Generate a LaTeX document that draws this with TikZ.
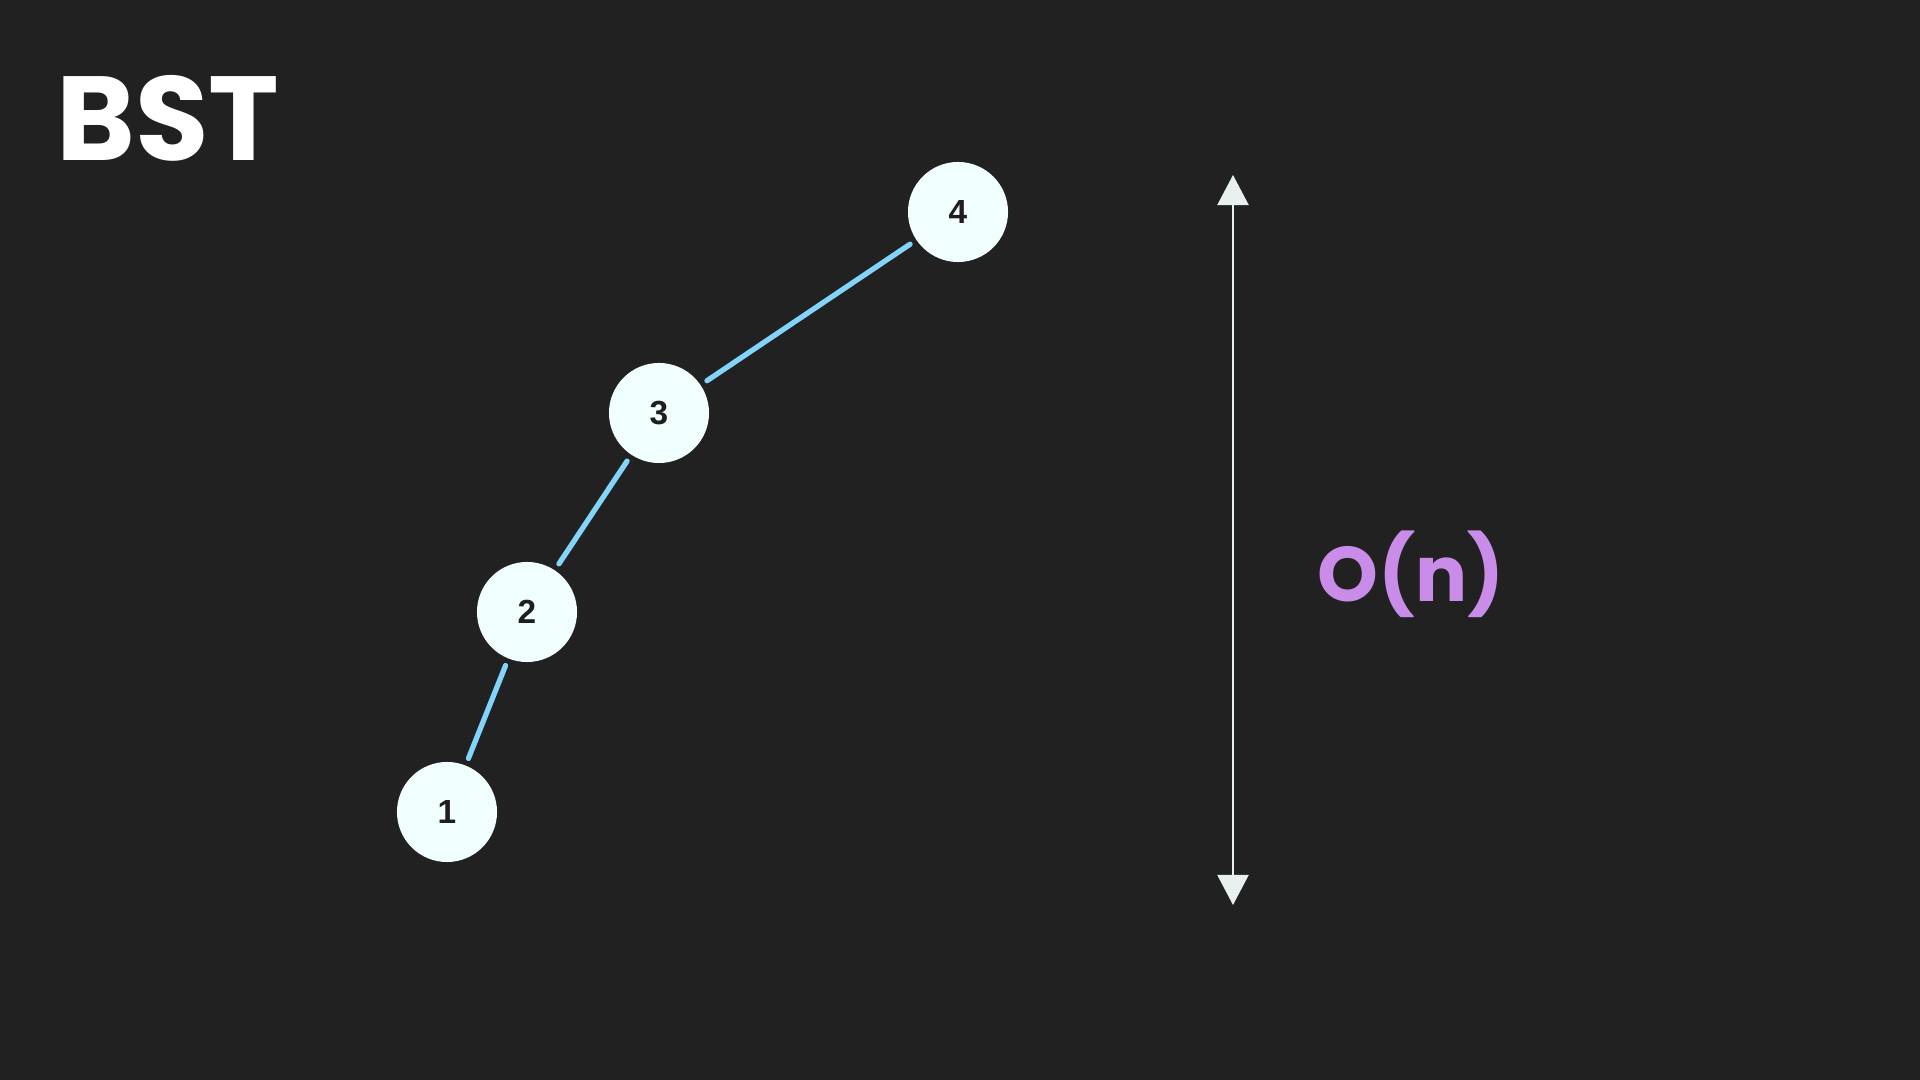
\documentclass[tikz,border=0pt]{standalone}
\usepackage{fontspec}
\setmainfont{Liberation Sans}
\newfontfamily\handfont{Poppins}
\usetikzlibrary{arrows.meta}
\definecolor{bgdark}{RGB}{33,33,33}
\definecolor{nodefill}{RGB}{240,254,254}
\definecolor{nodetext}{RGB}{30,30,30}
\definecolor{edgeblue}{RGB}{130,212,250}
\definecolor{violetink}{RGB}{201,140,232}
\definecolor{arrowink}{RGB}{232,240,240}
\tikzset{
  treenode/.style={circle, fill=nodefill, minimum size=1cm, inner sep=0pt,
    text=nodetext, font=\fontsize{9.5}{11}\selectfont\bfseries},
  treeedge/.style={draw=edgeblue, line width=1.5pt, line cap=round,
    shorten >=2pt, shorten <=2pt},
  handtext/.style={inner sep=0pt},
  sizearrow/.style={draw=arrowink, line width=0.6pt,
    {Triangle[width=0.31cm,length=0.30cm]}-{Triangle[width=0.31cm,length=0.30cm]}}
}
\begin{document}
\begin{tikzpicture}[x=0.01cm,y=-0.01cm]
  % canvas
  \fill[bgdark] (0,0) rectangle (1920,1080);
  \useasboundingbox (0,0) rectangle (1920,1080);

  % title
  \node[handtext, text=white, font=\handfont\bfseries\fontsize{34}{40}\selectfont] (title) at (168,118) {BST};

  % degenerate tree
  \node[treenode] (n4) at (958,212) {4};
  \node[treenode] (n3) at (659,413) {3};
  \node[treenode] (n2) at (527,612) {2};
  \node[treenode] (n1) at (447,812) {1};

  \draw[treeedge] (n4) -- (n3);
  \draw[treeedge] (n3) -- (n2);
  \draw[treeedge] (n2) -- (n1);

  % height marker
  \coordinate (htop) at (1233,175);
  \coordinate (hbot) at (1233,905);
  \draw[sizearrow] (htop) -- (hbot);

  \node[handtext, text=violetink, font=\handfont\bfseries\fontsize{22}{28}\selectfont] (cost) at (1411,574) {O(n)};
\end{tikzpicture}
\end{document}
